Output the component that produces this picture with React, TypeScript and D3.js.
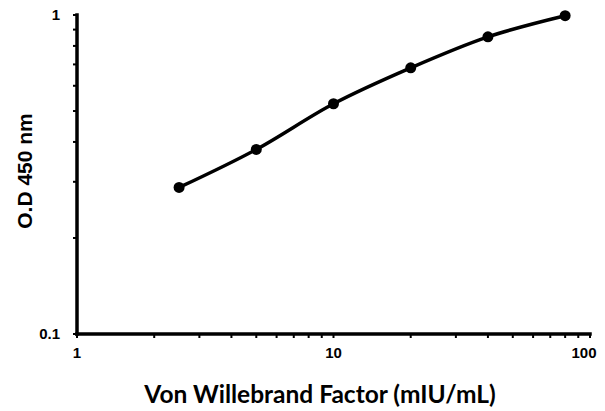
import { useMemo } from "react";
import * as d3 from "d3";

const concentrations = [2.5, 5, 10, 20, 40, 80];
const odValues = [0.288, 0.379, 0.527, 0.683, 0.854, 0.995];
const xTickLabels = [1, 10, 100];
const yTickLabels = [0.1, 1];

const WIDTH = 605;
const HEIGHT = 411;
const MARGIN = { top: 15, right: 15, bottom: 77, left: 77 };

const FONT = "'Liberation Sans', Arial, sans-serif";

export default function App() {
  const innerW = WIDTH - MARGIN.left - MARGIN.right;
  const innerH = HEIGHT - MARGIN.top - MARGIN.bottom;

  const xScale = useMemo(() => d3.scaleLog().domain([1, 100]).range([0, innerW]), [innerW]);
  const yScale = useMemo(() => d3.scaleLog().domain([0.1, 1]).range([innerH, 0]), [innerH]);

  const points = concentrations.map((c, i) => [xScale(c), yScale(odValues[i])] as [number, number]);
  const path = d3.line().curve(d3.curveMonotoneX)(points) ?? "";

  // minor ticks 1..10 for each decade
  const xTicks = xScale.ticks();
  const yTicks = yScale.ticks();

  return (
    <div style={{ position: "absolute", left: 0, top: 0 }}>
      <svg width={WIDTH} height={HEIGHT} style={{ display: "block", background: "#fff" }}>
        <g transform={`translate(${MARGIN.left}, ${MARGIN.top})`}>
          {xTicks.map((t, i) => (
            <line key={"xt" + i} x1={xScale(t)} x2={xScale(t)} y1={innerH} y2={innerH + 4} stroke="#000" strokeWidth={2} />
          ))}
          {yTicks.map((t, i) => (
            <line key={"yt" + i} x1={-4} x2={0} y1={yScale(t)} y2={yScale(t)} stroke="#000" strokeWidth={2} />
          ))}
          <line x1={0} x2={innerW} y1={innerH} y2={innerH} stroke="#000" strokeWidth={3.5} strokeLinecap="square" />
          <line x1={0} x2={0} y1={0} y2={innerH} stroke="#000" strokeWidth={3.5} strokeLinecap="square" />

          {xTickLabels.map((t) => (
            <text key={"xl" + t} x={xScale(t) - (t === 100 ? 6 : 0)} y={innerH + 24} textAnchor="middle" fontFamily={FONT} fontWeight="bold" fontSize={15}>
              {t}
            </text>
          ))}
          {yTickLabels.map((t) => (
            <text key={"yl" + t} x={-17} y={yScale(t) + 5} textAnchor="end" fontFamily={FONT} fontWeight="bold" fontSize={15}>
              {t}
            </text>
          ))}

          <path d={path} fill="none" stroke="#000" strokeWidth={3.5} />
          {points.map(([x, y], i) => (
            <circle key={"p" + i} cx={x} cy={y} r={5.5} fill="#000" />
          ))}
        </g>
        <text x={320} y={403} textAnchor="middle" fontFamily="Lato, 'Open Sans', sans-serif" fontWeight="bold" fontSize={24.5}>
          Von Willebrand Factor (mIU/mL)
        </text>
        <text transform={`translate(32, 171) rotate(-90)`} textAnchor="middle" fontFamily={FONT} fontWeight="bold" fontSize={21}>
          O.D 450 nm
        </text>
      </svg>
    </div>
  );
}
